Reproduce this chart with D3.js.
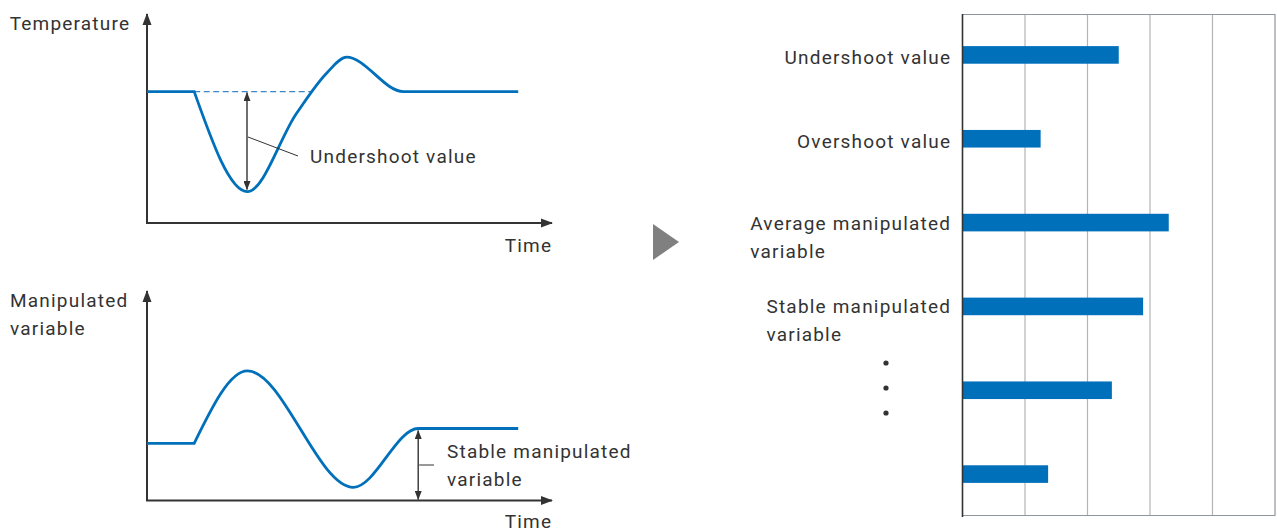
<!DOCTYPE html>
<html>
<head>
<meta charset="utf-8">
<script src="https://cdn.jsdelivr.net/npm/d3@7"></script>
<style>
  body { margin: 0; background: #fff; }
  text { font-family: Roboto, sans-serif; font-size: 19px; letter-spacing: 1.2px; fill: #333; }
</style>
</head>
<body>
<svg width="1277" height="532"></svg>
<script>
// temperature response, key points (time units 0-100, value units 0-100)
const tempTime = [0, 11.8, 25.1, 37.4, 44.9, 49.9, 64.1, 92.8]
const tempValue = [65.7, 65.7, 15.7, 54.9, 74.9, 82.9, 65.7, 65.7]

// manipulated variable response, key points
const mvTime = [0, 11.8, 25.1, 51.6, 67.8, 92.8]
const mvValue = [28.6, 28.6, 64.8, 6.6, 36, 36]

const setpoint = 65.7
const crossAt = 41.2
const undershootAt = 25
const stableAt = 67.8

// bar chart
const barLabels = [["Undershoot value"], ["Overshoot value"], ["Average manipulated", "variable"], ["Stable manipulated", "variable"], [], []]
const barValues = [2.5, 1.25, 3.3, 2.89, 2.39, 1.37]
const barTicks = [1, 2, 3, 4, 5]

const blue = "#0070bb"
const dark = "#333"
const ls = 1.2 // letter spacing, trailing gap on end-anchored text

const svg = d3.select("svg")
const defs = svg.append("defs")

defs.append("marker")
  .attr("id", "axisHead")
  .attr("markerUnits", "userSpaceOnUse")
  .attr("viewBox", "0 0 12 10")
  .attr("refX", 11).attr("refY", 5)
  .attr("markerWidth", 12).attr("markerHeight", 10)
  .attr("orient", "auto")
  .append("path").attr("d", "M0,0.5L12,5L0,9.5Z").attr("fill", dark)

defs.append("marker")
  .attr("id", "smallHead")
  .attr("markerUnits", "userSpaceOnUse")
  .attr("viewBox", "0 0 9 7")
  .attr("refX", 8.5).attr("refY", 3.5)
  .attr("markerWidth", 9).attr("markerHeight", 7)
  .attr("orient", "auto-start-reverse")
  .append("path").attr("d", "M0,0L9,3.5L0,7Z").attr("fill", dark)

const x = d3.scaleLinear().domain([0, 100]).range([147, 547])

// monotone curve, but keep the sharp corner where the step starts
const responsePath = (times, values, y, corner) => {
  const pts = times.map((t, i) => [x(t), y(values[i])])
  const head = d3.line()(pts.slice(0, corner + 1))
  const tail = d3.line().curve(d3.curveMonotoneX)(pts.slice(corner))
  return head + tail.replace(/^M[^LC]*/, "")
}

const drawAxes = (y, tipY, tipX) => {
  svg.append("line")
    .attr("x1", x(0)).attr("y1", y(0)).attr("x2", x(0)).attr("y2", tipY)
    .attr("stroke", dark).attr("stroke-width", 2)
    .attr("marker-end", "url(#axisHead)")
  svg.append("line")
    .attr("x1", x(0) - 1).attr("y1", y(0)).attr("x2", tipX).attr("y2", y(0))
    .attr("stroke", dark).attr("stroke-width", 2)
    .attr("marker-end", "url(#axisHead)")
}

// ---- top: temperature
const yTemp = d3.scaleLinear().domain([0, 100]).range([223, 23])
drawAxes(yTemp, 14, 552)

svg.append("line")
  .attr("x1", x(tempTime[1])).attr("x2", x(crossAt))
  .attr("y1", yTemp(setpoint)).attr("y2", yTemp(setpoint))
  .attr("stroke", "#3a86c8").attr("stroke-width", 1.3)
  .attr("stroke-dasharray", "6,3.5")

svg.append("path")
  .attr("d", responsePath(tempTime, tempValue, yTemp, 1))
  .attr("fill", "none").attr("stroke", blue).attr("stroke-width", 2.8)

svg.append("line")
  .attr("x1", x(undershootAt)).attr("x2", x(undershootAt))
  .attr("y1", yTemp(setpoint) + 1).attr("y2", yTemp(d3.min(tempValue)) - 2)
  .attr("stroke", dark).attr("stroke-width", 1.4)
  .attr("marker-start", "url(#smallHead)").attr("marker-end", "url(#smallHead)")

svg.append("line")
  .attr("x1", x(undershootAt) + 1).attr("y1", 137)
  .attr("x2", 298).attr("y2", 156)
  .attr("stroke", dark).attr("stroke-width", 1)

svg.append("text").attr("x", 310).attr("y", 163).text("Undershoot value")
svg.append("text").attr("x", 129 + ls).attr("y", 30).attr("text-anchor", "end").text("Temperature")
svg.append("text").attr("x", 551 + ls).attr("y", 252).attr("text-anchor", "end").text("Time")

// ---- bottom: manipulated variable
const yMv = d3.scaleLinear().domain([0, 100]).range([500.5, 300.5])
drawAxes(yMv, 291, 552)

svg.append("path")
  .attr("d", responsePath(mvTime, mvValue, yMv, 1))
  .attr("fill", "none").attr("stroke", blue).attr("stroke-width", 2.8)

svg.append("line")
  .attr("x1", x(stableAt)).attr("x2", x(stableAt))
  .attr("y1", yMv(mvValue[mvValue.length - 1]) + 2).attr("y2", yMv(0) - 1)
  .attr("stroke", dark).attr("stroke-width", 1.4)
  .attr("marker-start", "url(#smallHead)").attr("marker-end", "url(#smallHead)")

svg.append("line")
  .attr("x1", x(stableAt) + 1).attr("x2", 434)
  .attr("y1", 465).attr("y2", 465)
  .attr("stroke", dark).attr("stroke-width", 1)

svg.append("text").attr("x", 447).attr("y", 458).text("Stable manipulated")
svg.append("text").attr("x", 447).attr("y", 486).text("variable")
svg.append("text").attr("x", 10).attr("y", 307).text("Manipulated")
svg.append("text").attr("x", 10).attr("y", 335).text("variable")
svg.append("text").attr("x", 551 + ls).attr("y", 528).attr("text-anchor", "end").text("Time")

// ---- arrow between panels
svg.append("path")
  .attr("d", "M653,224L679,242L653,260Z")
  .attr("fill", "#808080")

// ---- bar chart
const bx = d3.scaleLinear().domain([0, 5]).range([962.5, 1275])
const by = d3.scaleBand().domain(d3.range(barValues.length)).range([13, 516]).paddingInner(0.79).paddingOuter(0.395)

const grid = svg.append("g")
grid.selectAll("line")
  .data(barTicks)
  .join("line")
  .attr("x1", (d) => bx(d)).attr("x2", (d) => bx(d))
  .attr("y1", 14).attr("y2", 516)
  .attr("stroke", (d) => d === 5 ? "#8e959b" : "#b4b4b4")
  .attr("stroke-width", 1.2)

svg.append("line")
  .attr("x1", bx(0)).attr("x2", bx(5)).attr("y1", 14.5).attr("y2", 14.5)
  .attr("stroke", "#8e959b").attr("stroke-width", 1.2)
svg.append("line")
  .attr("x1", bx(0)).attr("x2", bx(5)).attr("y1", 515.5).attr("y2", 515.5)
  .attr("stroke", "#8e959b").attr("stroke-width", 1.2)

svg.append("g")
  .selectAll("rect")
  .data(barValues)
  .join("rect")
  .attr("x", bx(0))
  .attr("y", (d, i) => by(i))
  .attr("width", (d) => bx(d) - bx(0))
  .attr("height", by.bandwidth())
  .attr("fill", blue)

svg.append("line")
  .attr("x1", bx(0)).attr("x2", bx(0)).attr("y1", 14).attr("y2", 517)
  .attr("stroke", dark).attr("stroke-width", 1.6)

barLabels.forEach((lines, i) => {
  if (!lines.length) return
  const cy = by(i) + by.bandwidth() / 2
  const right = bx(0) - 12.5 + ls
  const first = svg.append("text")
    .attr("x", right)
    .attr("y", cy + (lines.length > 1 ? 7 : 9))
    .attr("text-anchor", "end")
    .text(lines[0])
  if (lines.length > 1) {
    const left = right - first.node().getComputedTextLength()
    svg.append("text").attr("x", left).attr("y", cy + 35).text(lines[1])
  }
})

// ellipsis dots
svg.append("g")
  .selectAll("circle")
  .data([363, 388, 413])
  .join("circle")
  .attr("cx", 886).attr("cy", (d) => d).attr("r", 2.6)
  .attr("fill", dark)
</script>
</body>
</html>
